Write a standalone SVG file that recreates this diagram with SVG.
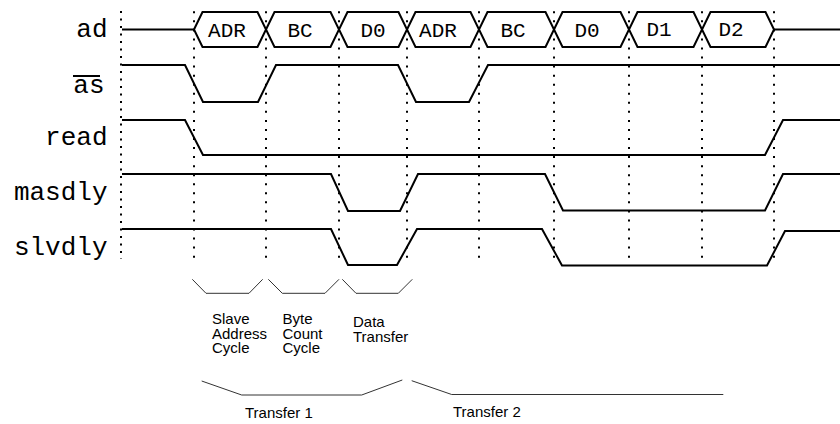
<svg xmlns="http://www.w3.org/2000/svg" width="840" height="424" viewBox="0 0 840 424">
<style>
.lbl{font-family:"Liberation Mono",monospace;font-size:26px;fill:#000;text-anchor:end}
.bus{font-family:"Liberation Mono",monospace;font-size:21px;fill:#000;text-anchor:middle}
.sig{fill:none;stroke:#000;stroke-width:2;stroke-linejoin:miter}
.dot{fill:none;stroke:#000;stroke-width:2;stroke-dasharray:2 7.05}
.dot0{fill:none;stroke:#000;stroke-width:2;stroke-dasharray:2 5.5}
.br{fill:none;stroke:#333;stroke-width:1}
.note{font-family:"Liberation Sans",Arial,sans-serif;font-size:15px;fill:#000}
</style>
<rect width="840" height="424" fill="#fff"/>
<g id="grid">
<line class="dot0" x1="121" y1="11" x2="121" y2="259"/>
<line class="dot" x1="194" y1="11.3" x2="194" y2="258"/>
<line class="dot" x1="266" y1="11.3" x2="266" y2="258"/>
<line class="dot" x1="339" y1="11.3" x2="339" y2="258"/>
<line class="dot" x1="407" y1="11.3" x2="407" y2="259"/>
<line class="dot" x1="479" y1="11.3" x2="479" y2="258"/>
<line class="dot" x1="554" y1="11.3" x2="554" y2="258"/>
<line class="dot" x1="629" y1="11.3" x2="629" y2="258"/>
<line class="dot" x1="702" y1="11.3" x2="702" y2="258"/>
<line class="dot" x1="774" y1="11.3" x2="774" y2="258"/>
</g>
<g id="labels">
<text class="lbl" x="107.5" y="37">ad</text>
<text class="lbl" x="104.5" y="93">as</text>
<line x1="73" y1="76" x2="100" y2="76" stroke="#000" stroke-width="2"/>
<text class="lbl" x="107.5" y="145">read</text>
<text class="lbl" x="107.5" y="200">masdly</text>
<text class="lbl" x="107.5" y="255">slvdly</text>
</g>
<g id="ad">
<path class="sig" d="M122,29.5 L194,29.5"/>
<path class="sig" d="M194,29.5 L202.5,12 L257.5,12 L266,29.5 L257.5,47 L202.5,47 Z"/>
<path class="sig" d="M266,29.5 L274.5,12 L330.5,12 L339,29.5 L330.5,47 L274.5,47 Z"/>
<path class="sig" d="M339,29.5 L347.5,12 L398.5,12 L407,29.5 L398.5,47 L347.5,47 Z"/>
<path class="sig" d="M407,29.5 L415.5,12 L470.5,12 L479,29.5 L470.5,47 L415.5,47 Z"/>
<path class="sig" d="M479,29.5 L487.5,12 L545.5,12 L554,29.5 L545.5,47 L487.5,47 Z"/>
<path class="sig" d="M554,29.5 L562.5,12 L620.5,12 L629,29.5 L620.5,47 L562.5,47 Z"/>
<path class="sig" d="M629,29.5 L637.5,12 L693.5,12 L702,29.5 L693.5,47 L637.5,47 Z"/>
<path class="sig" d="M702,29.5 L710.5,12 L765.5,12 L774,29.5 L765.5,47 L710.5,47 Z"/>
<path class="sig" d="M774,29.5 L840,29.5"/>
<text class="bus" x="227" y="37">ADR</text>
<text class="bus" x="300" y="37">BC</text>
<text class="bus" x="373" y="37">D0</text>
<text class="bus" x="438" y="37">ADR</text>
<text class="bus" x="513" y="37">BC</text>
<text class="bus" x="587" y="37">D0</text>
<text class="bus" x="659" y="35.5">D1</text>
<text class="bus" x="731" y="35.5">D2</text>
</g>
<g id="as">
<path class="sig" d="M122,65 L185,65 L203,102 L258,102 L276,65 L398,65 L416,102 L469,102 L488,65 L840,65"/>
</g>
<g id="read">
<path class="sig" d="M122,120 L185,120 L203,155 L765,155 L783,120 L840,120"/>
</g>
<g id="masdly">
<path class="sig" d="M122,174 L331,174 L348,211 L400,211 L418,174 L545,174 L563,210.5 L765,210.5 L783,174 L840,174"/>
</g>
<g id="slvdly">
<path class="sig" d="M122,229 L331,229 L348,265 L397,265 L417,229 L542,229 L562,265.5 L767,265.5 L785,231 L840,231"/>
</g>
<g id="braces">
<path class="br" d="M192.3,279.3 L206,293.3 L249,293.3 L262.7,279.3"/>
<path class="br" d="M268.3,279.3 L282.3,293.3 L325,293.3 L339,279.3"/>
<path class="br" d="M342.3,279.3 L356,293.3 L398.3,293.3 L412.3,279.3"/>
<path class="br" d="M201.7,381 L241.7,395 L361.7,395 L402.3,380"/>
<path class="br" d="M411.7,380.7 L451.7,394.5 L723.3,394.5"/>
</g>
<g id="notes">
<text class="note"><tspan x="212" y="324">Slave</tspan><tspan x="212" y="339">Address</tspan><tspan x="212" y="353">Cycle</tspan></text>
<text class="note"><tspan x="282.5" y="324">Byte</tspan><tspan x="282.5" y="339">Count</tspan><tspan x="282.5" y="353">Cycle</tspan></text>
<text class="note"><tspan x="353" y="327">Data</tspan><tspan x="353" y="341.5">Transfer</tspan></text>
<text class="note" x="245" y="417.5">Transfer 1</text>
<text class="note" x="453" y="417">Transfer 2</text>
</g>
</svg>
